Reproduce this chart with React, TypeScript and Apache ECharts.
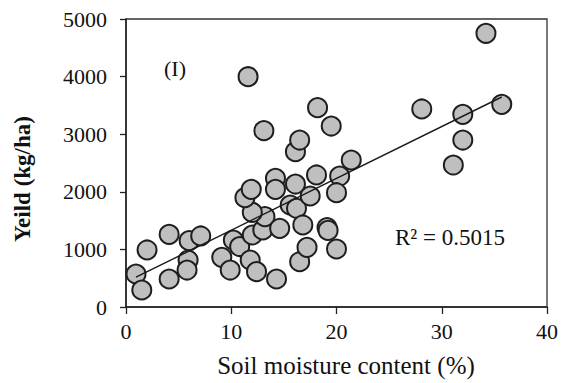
import React, { useEffect, useRef } from "react";
import * as echarts from "echarts";

// Soil moisture (%) and yield (kg/ha) per plot
const moisture = [
  0.95, 1.5, 2.0, 4.1, 4.1, 5.9, 5.8, 6.0, 7.1, 9.1, 9.9, 10.2, 10.8, 11.8, 12.4,
  14.3, 12.0, 13.0, 13.2, 12.0, 11.3, 11.9, 14.2, 14.2, 16.1, 14.6, 15.6, 16.2,
  16.8, 16.5, 17.2, 17.5, 18.1, 20.3, 20.0, 19.1, 19.2, 20.0, 21.4, 16.1, 16.5,
  13.1, 11.6, 18.2, 19.5, 28.1, 32.0, 32.0, 31.1, 34.2, 35.7,
];
const yieldKgHa = [
  573, 295, 990, 1262, 486, 816, 642, 1151, 1233, 863, 642, 1163, 1050, 816, 613,
  486, 1250, 1337, 1568, 1644, 1898, 2043, 2234, 2043, 2135, 1366, 1771, 1714,
  1424, 786, 1036, 1927, 2292, 2274, 1984, 1380, 1330, 1007, 2552, 2696, 2899,
  3061, 3998, 3460, 3142, 3438, 3345, 2899, 2465, 4752, 3519,
];
const xTicks = [0, 10, 20, 30, 40];
const yTicks = [0, 1000, 2000, 3000, 4000, 5000];
const rSquaredLabel = "R² = 0.5015";
const panelLabel = "(I)";

const SERIF = "'Liberation Serif', 'Times New Roman', serif";

// Ordinary least squares fit of yield on moisture
function linearFit(xs: number[], ys: number[]) {
  const n = xs.length;
  const mx = xs.reduce((a, b) => a + b, 0) / n;
  const my = ys.reduce((a, b) => a + b, 0) / n;
  let sxy = 0;
  let sxx = 0;
  for (let i = 0; i < n; i++) {
    sxy += (xs[i] - mx) * (ys[i] - my);
    sxx += (xs[i] - mx) * (xs[i] - mx);
  }
  const slope = sxy / sxx;
  return { slope, intercept: my - slope * mx };
}

export default function App() {
  const ref = useRef<HTMLDivElement>(null);

  useEffect(() => {
    if (!ref.current) return;
    const chart = echarts.init(ref.current, undefined, { renderer: "svg" });
    const points = moisture.map((x, i) => [x, yieldKgHa[i]]);
    const { slope, intercept } = linearFit(moisture, yieldKgHa);
    const xMin = Math.min(...moisture);
    const xMax = Math.max(...moisture);
    const trend = [
      [xMin, intercept + slope * xMin],
      [xMax, intercept + slope * xMax],
    ];

    chart.setOption({
      animation: false,
      backgroundColor: "#ffffff",
      grid: {
        left: 126,
        right: 14,
        top: 19,
        bottom: 76,
        show: true,
        borderColor: "#333",
        borderWidth: 1.3,
      },
      xAxis: {
        type: "value",
        min: xTicks[0],
        max: xTicks[xTicks.length - 1],
        interval: 10,
        axisLine: { show: true, lineStyle: { color: "#222", width: 1.5 } },
        axisTick: { show: true, inside: false, length: 7, lineStyle: { color: "#222", width: 1.3 } },
        splitLine: { show: false },
        axisLabel: {
          fontFamily: SERIF,
          fontSize: 22,
          color: "#111",
          margin: 13,
          formatter: (v: number) => String(v),
        },
      },
      yAxis: {
        type: "value",
        min: yTicks[0],
        max: yTicks[yTicks.length - 1],
        interval: 1000,
        axisLine: { show: true, lineStyle: { color: "#222", width: 1.5 } },
        axisTick: { show: true, inside: false, length: 6, lineStyle: { color: "#222", width: 1.3 } },
        splitLine: { show: false },
        axisLabel: {
          fontFamily: SERIF,
          fontSize: 22,
          color: "#111",
          margin: 19,
          formatter: (v: number) => String(v),
        },
      },
      series: [
        {
          type: "scatter",
          data: points,
          symbol: "circle",
          symbolSize: 19,
          itemStyle: { color: "#bfbfbf", borderColor: "#1e1e1e", borderWidth: 2, opacity: 1 },
          z: 2,
        },
        {
          type: "line",
          data: trend,
          showSymbol: false,
          symbol: "none",
          lineStyle: { color: "#1a1a1a", width: 1.4 },
          z: 3,
        },
      ],
      graphic: [
        {
          type: "text",
          x: 164,
          y: 68,
          style: {
            text: panelLabel,
            font: `22px ${SERIF}`,
            fill: "#111",
            textAlign: "left",
            textVerticalAlign: "middle",
          },
        },
        {
          type: "text",
          x: 395,
          y: 237,
          style: {
            text: rSquaredLabel,
            font: `23px ${SERIF}`,
            fill: "#111",
            textAlign: "left",
            textVerticalAlign: "middle",
          },
        },
        {
          type: "text",
          x: 346,
          y: 365,
          style: {
            text: "Soil moisture content (%)",
            font: `25px ${SERIF}`,
            fill: "#111",
            textAlign: "center",
            textVerticalAlign: "middle",
          },
        },
        {
          type: "text",
          x: 22,
          y: 179,
          rotation: Math.PI / 2,
          style: {
            text: "Yeild (kg/ha)",
            font: `bold 23px ${SERIF}`,
            fill: "#111",
            textAlign: "center",
            textVerticalAlign: "middle",
          },
        },
      ],
    });

    return () => chart.dispose();
  }, []);

  return <div ref={ref} style={{ width: 561, height: 383, position: "absolute", left: 0, top: 0 }} />;
}
